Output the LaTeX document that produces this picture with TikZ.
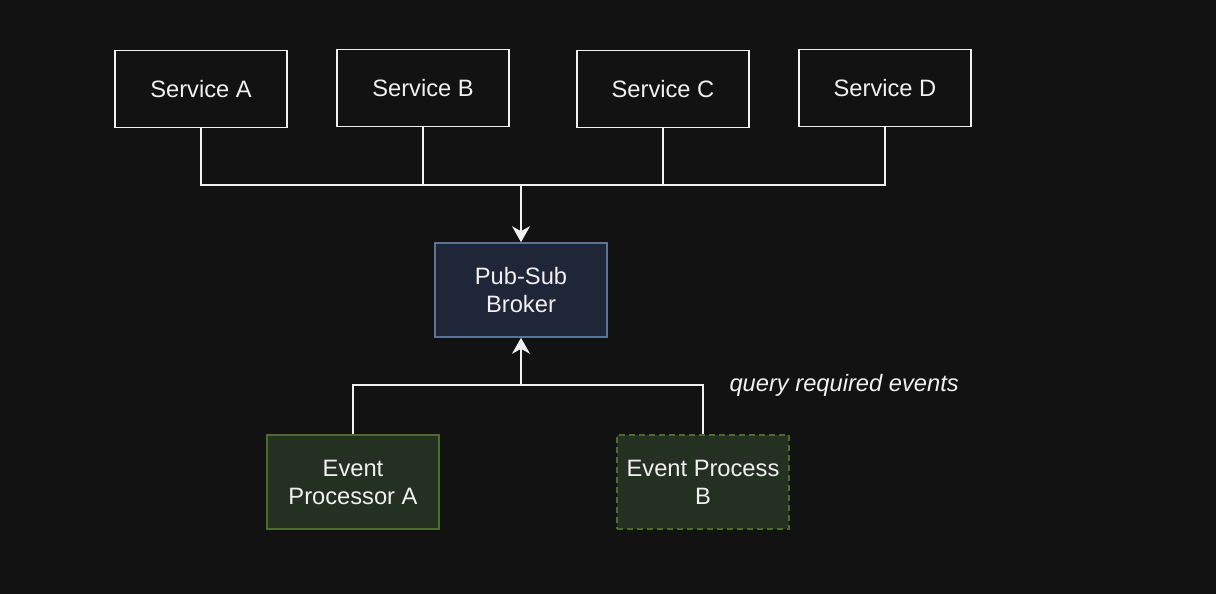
\documentclass[tikz,border=0pt]{standalone}
\usepackage{fontspec}
\setmainfont{Liberation Sans}
\usetikzlibrary{arrows.meta}
\definecolor{bg}{HTML}{121212}
\definecolor{fg}{HTML}{F0F0F0}
\definecolor{brokerfill}{HTML}{1E2638}
\definecolor{brokerdraw}{HTML}{5B7395}
\definecolor{epfill}{HTML}{243022}
\definecolor{epdraw}{HTML}{4C6B2C}
\tikzset{
  svc/.style={draw=fg, line width=1.6pt, fill=bg, minimum width=172pt, minimum height=77pt, inner sep=0pt, text=fg, font=\fontsize{23.7}{28}\selectfont, align=center},
  broker/.style={svc, draw=brokerdraw, fill=brokerfill, minimum height=94pt},
  ep/.style={svc, draw=epdraw, fill=epfill, minimum height=94pt},
  conn/.style={draw=fg, line width=1.6pt},
  tip/.style={-{Stealth[length=16pt, width=18pt, inset=5pt]}},
}
\begin{document}
\begin{tikzpicture}[x=1pt, y=-1pt]
\fill[bg] (0,0) rectangle (1216,594);
\useasboundingbox (0,0) rectangle (1216,594);
\node[svc] (sa) at (201,89) {Service A};
\node[svc] (sb) at (423,88) {Service B};
\node[svc] (sc) at (663,89) {Service C};
\node[svc] (sd) at (885,88) {Service D};
\node[broker] (br) at (521,290) {Pub-Sub\\Broker};
\node[ep] (epa) at (353,482) {Event\\Processor A};
\node[ep, dashed, dash pattern=on 6pt off 4pt] (epb) at (703,482) {Event Process\\B};
\coordinate (top) at (521,185);
\coordinate (bot) at (521,385);
\draw[conn] (sa.south) |- (sd.south |- top) -- (sd.south);
\draw[conn] (sb.south) -- (sb.south |- top);
\draw[conn] (sc.south) -- (sc.south |- top);
\draw[conn, tip] (top) -- (br.north);
\draw[conn] (epa.north) |- (epb.north |- bot) -- (epb.north);
\draw[conn, tip] (bot) -- (br.south);
\node[text=fg, font=\fontsize{23.7}{28}\selectfont\itshape, anchor=west] (lbl) at (726,385) {query required events};
\end{tikzpicture}
\end{document}
